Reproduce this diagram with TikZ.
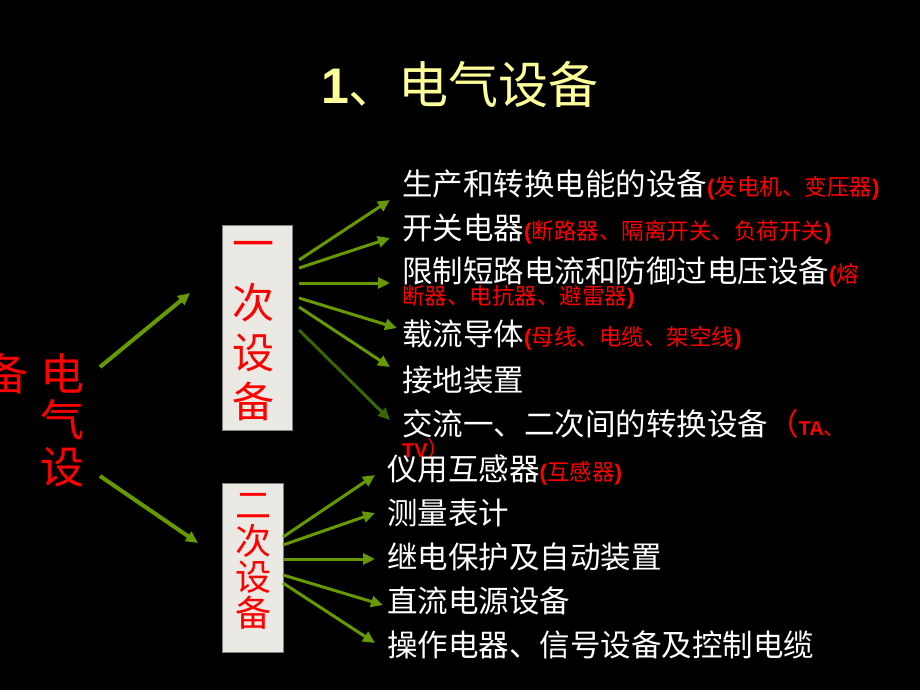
\documentclass[tikz,border=0pt]{standalone}
\usepackage{fontspec}
\setmainfont{Liberation Sans}
\newfontfamily\zh{Noto Sans CJK SC}
\newfontfamily\lat{Liberation Sans}
\usetikzlibrary{arrows.meta}
\definecolor{arrgreen}{RGB}{102,153,0}
\definecolor{arrdark}{RGB}{58,102,0}
\definecolor{boxgray}{RGB}{234,233,228}
\definecolor{titleyellow}{RGB}{255,255,153}
\tikzset{
	item/.style = {anchor=west, inner sep=0pt, text=white, font=\zh\fontsize{30.5}{30.5}\selectfont},
	eqbox/.style = {draw=gray, line width=1pt, fill=boxgray, inner sep=0pt},
	boxchar/.style = {inner sep=0pt, text=red},
	arr/.style = {-{Triangle[length=12pt,width=11pt]}, line width=3pt, arrgreen}
}
\newcommand\rednote[1]{{\color{red}\fontsize{22.5}{22.5}\selectfont{\lat\bfseries(}#1{\lat\bfseries)}}}
\begin{document}
\begin{tikzpicture}[x=1pt,y=-1pt]
		\useasboundingbox (0,0) rectangle (920,690);
		\fill[black] (0,0) rectangle (920,690);
		\node[inner sep=0pt, text=titleyellow, font=\zh\fontsize{50}{50}\selectfont] (title) at (460,84) {{\lat\bfseries 1}、电气设备};
		% left column
		\foreach \c/\y in {电/373,气/420,设/467}{
			\node[boxchar, font=\zh\fontsize{44}{44}\selectfont] (main\c) at (62,\y) {\c};
		}
		\node[boxchar, font=\zh\fontsize{44}{44}\selectfont] (mainB) at (6,374) {备};
		% boxes
		\node[eqbox, minimum width=70pt, minimum height=205pt] (one) at (257,327.5) {};
		\foreach \c/\y in {一/250,次/303,设/353,备/401}{
			\node[boxchar, font=\zh\fontsize{42}{42}\selectfont] at (253,\y) {\c};
		}
		\node[eqbox, minimum width=61pt, minimum height=169pt] (two) at (252.5,567.5) {};
		\foreach \c/\y in {二/506,次/541,设/577,备/613}{
			\node[boxchar, font=\zh\fontsize{36}{36}\selectfont] at (253,\y) {\c};
		}
		% primary items
		\node[item] (u1) at (402,185) {生产和转换电能的设备\rednote{发电机、变压器}};
		\node[item] (u2) at (402,229) {开关电器\rednote{断路器、隔离开关、负荷开关}};
		\node[item] (u3) at (402,272) {限制短路电流和防御过电压设备{\color{red}\fontsize{22.5}{22.5}\selectfont{\lat\bfseries(}熔}};
		\node[item, text=red, font=\zh\fontsize{22.5}{22.5}\selectfont] (u3b) at (402,297) {断器、电抗器、避雷器{\lat\bfseries)}};
		\node[item] (u4) at (402,335) {载流导体\rednote{母线、电缆、架空线}};
		\node[item] (u5) at (402,380) {接地装置};
		\node[item] (u6) at (402,424) {交流一、二次间的转换设备{\color{red}（{\fontsize{20}{20}\selectfont\lat\bfseries TA}{\fontsize{22}{22}\selectfont 、}}};
		\node[item, text=red, font=\zh\fontsize{22}{22}\selectfont] (u6b) at (402,449) {{\fontsize{20}{20}\selectfont\lat\bfseries TV}）};
		% secondary items
		\node[item] (l1) at (387,470) {仪用互感器\rednote{互感器}};
		\node[item] (l2) at (387,513) {测量表计};
		\node[item] (l3) at (387,557) {继电保护及自动装置};
		\node[item] (l4) at (387,601) {直流电源设备};
		\node[item] (l5) at (387,645) {操作电器、信号设备及控制电缆};
		% arrows
		\coordinate (m1) at (100,367);
		\coordinate (m2) at (100,476);
		\coordinate (p1) at (190,293);
		\coordinate (p2) at (198,543);
		\draw[arr, line width=4pt] (m1) -- (p1);
		\draw[arr, line width=4pt] (m2) -- (p2);
		\foreach \sy/\ex/\ey [count=\i] in {260/390/200,268/390/238,283/390/283,298/397/328,307/390/367}{
			\coordinate (s\i) at (299,\sy);
			\coordinate (e\i) at (\ex,\ey);
			\draw[arr] (s\i) -- (e\i);
		}
		\coordinate (s6) at (299,330);
		\coordinate (e6) at (390,420);
		\draw[arr, arrdark] (s6) -- (e6);
		\foreach \sy/\ex/\ey [count=\i] in {537/375/475,545/375/513,559/375/559,575/383/605,583/375/643}{
			\coordinate (t\i) at (283,\sy);
			\coordinate (f\i) at (\ex,\ey);
			\draw[arr] (t\i) -- (f\i);
		}
\end{tikzpicture}
\end{document}
